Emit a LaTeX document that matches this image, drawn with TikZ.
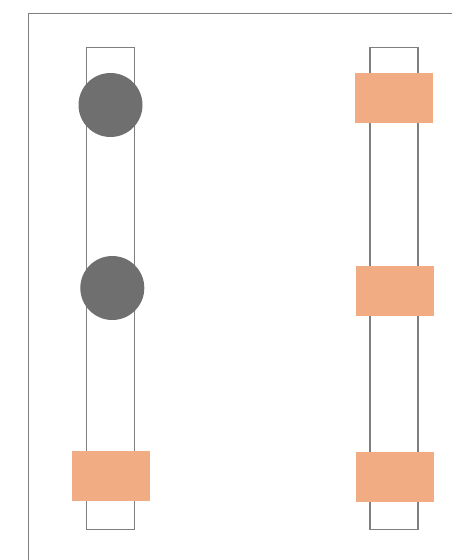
\documentclass[tikz,border=0pt]{standalone}
\definecolor{railgray}{HTML}{7F7F7F}
\definecolor{ballgray}{HTML}{6F6F6F}
\definecolor{padorange}{HTML}{F2AC84}
\tikzset{
  rail/.style={draw=railgray, line width=1.5pt, minimum width=48pt, minimum height=482pt, inner sep=0pt, outer sep=0pt},
  ball/.style={circle, fill=ballgray, minimum size=64pt, inner sep=0pt},
  pad/.style={fill=padorange, minimum width=78pt, minimum height=50pt, inner sep=0pt}
}
\begin{document}
\begin{tikzpicture}[x=1pt,y=-1pt]
  \useasboundingbox (0,0) rectangle (452,560);
  \draw [railgray, line width=1.5pt] (28.5,560) -- (28.5,13.5) -- (452,13.5);
  \node [rail] (r1) at (110.7,288.5) {};
  \node [rail] (r2) at (394.2,288.5) {};
  \node [ball] (b1) at (110.5,105) {};
  \node [ball] (b2) at (112.3,288) {};
  \node [pad] (p1) at (111,476) {};
  \node [pad] (p2) at (394,98) {};
  \node [pad] (p3) at (395,291) {};
  \node [pad] (p4) at (395,477) {};
\end{tikzpicture}
\end{document}
